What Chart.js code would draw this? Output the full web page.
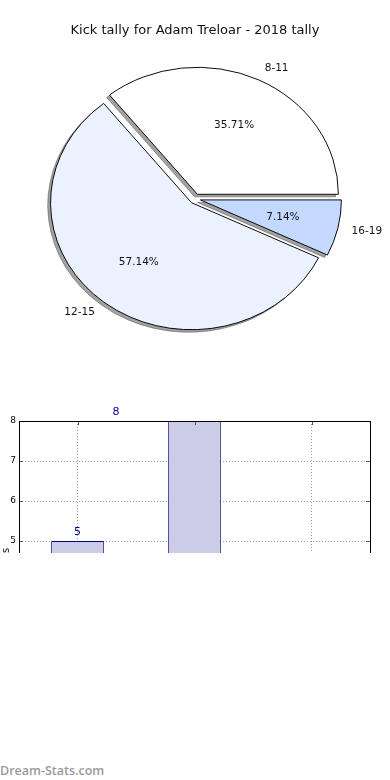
<!DOCTYPE html>
<html>
<head>
<meta charset="utf-8">
<script src="https://cdn.jsdelivr.net/npm/chart.js@4.4.1/dist/chart.umd.min.js"></script>
<style>
  html, body { margin: 0; padding: 0; background: #fff; }
  body { width: 390px; height: 780px; position: relative; overflow: hidden; }
  #pieBox { position: absolute; left: 0; top: 0; width: 390px; height: 400px; }
  #barBox { position: absolute; left: 0; top: 400px; width: 390px; height: 153px; overflow: hidden; }
  #barInner { width: 390px; height: 400px; }
  #mark { position: absolute; left: 0; top: 762px; font: 600 12.5px "Open Sans", sans-serif; color: #9a9a9a; }
</style>
</head>
<body>
<div id="pieBox"><canvas id="pie" width="390" height="400"></canvas></div>
<div id="barBox"><div id="barInner"><canvas id="bar" width="390" height="400"></canvas></div></div>
<div id="mark">Dream-Stats.com</div>
<script>
// data
const categories = ['8-11', '12-15', '16-19'];
const kickCounts = [5, 8, 1];
const sliceColors = ['#ffffff', '#ebf2ff', '#c4d9ff'];
const yTicks = [0, 1, 2, 3, 4, 5, 6, 7, 8];
// where the value labels sit, in category units relative to each bar
const labelShift = [0, -0.67, 0];
const chartTitle = 'Kick tally for Adam Treloar - 2018 tally';
const yAxisTitle = 'No. of games';

// pie look (matplotlib style: elliptical, exploded, shadowed)
const RADIUS_Y = 127;
const STRETCH_X = 141 / 127;
const EXPLODE = 5;
const SHADOW = 'rgba(70,70,70,0.5)';
const FONT = '"DejaVu Sans", sans-serif';

// chart.js draws clockwise from the rotation, matplotlib counter-clockwise
const pieLabels = [...categories].reverse();
const pieValues = [...kickCounts].reverse();
const pieColors = [...sliceColors].reverse();

const pieDraw = {
  id: 'pieDraw',
  beforeDatasetsDraw(chart) {
    const ctx = chart.ctx;
    const arcs = chart.getDatasetMeta(0).data;
    const cx = arcs[0].x, cy = arcs[0].y;
    const total = pieValues.reduce((a, b) => a + b, 0);

    const place = (arc) => {
      const mid = (arc.startAngle + arc.endAngle) / 2;
      ctx.translate(cx, cy);
      ctx.scale(STRETCH_X, 1);
      ctx.translate(-cx, -cy);
      ctx.translate(Math.cos(mid) * EXPLODE, Math.sin(mid) * EXPLODE);
    };

    // shadows under everything
    arcs.forEach(arc => {
      ctx.save();
      place(arc);
      ctx.translate(-0.02 * RADIUS_Y, 0.02 * RADIUS_Y);
      const opts = arc.options;
      arc.options = { ...opts, backgroundColor: SHADOW, borderColor: SHADOW };
      arc.draw(ctx);
      arc.options = opts;
      ctx.restore();
    });

    arcs.forEach(arc => {
      ctx.save();
      place(arc);
      arc.draw(ctx);
      ctx.restore();
    });

    // labels at 1.1 r, percentages at 0.6 r
    ctx.save();
    ctx.fillStyle = '#111';
    ctx.textBaseline = 'middle';
    ctx.font = '10.5px ' + FONT;
    arcs.forEach((arc, i) => {
      const mid = (arc.startAngle + arc.endAngle) / 2;
      const c = Math.cos(mid), s = Math.sin(mid);
      const wx = cx + c * EXPLODE * STRETCH_X;
      const wy = cy + s * EXPLODE;
      ctx.textAlign = c > 0 ? 'left' : 'right';
      ctx.fillText(pieLabels[i], wx + c * 1.1 * RADIUS_Y * STRETCH_X, wy + s * 1.1 * RADIUS_Y);
      ctx.textAlign = 'center';
      const pct = (pieValues[i] / total * 100).toFixed(2) + '%';
      ctx.fillText(pct, wx + c * 0.6 * RADIUS_Y * STRETCH_X, wy + s * 0.6 * RADIUS_Y);
    });
    ctx.restore();
    return false;
  }
};

new Chart(document.getElementById('pie'), {
  type: 'pie',
  data: {
    labels: pieLabels,
    datasets: [{
      data: pieValues,
      backgroundColor: pieColors,
      borderColor: '#000',
      borderWidth: 0.9,
      radius: RADIUS_Y
    }]
  },
  options: {
    responsive: false,
    animation: false,
    rotation: 90,
    layout: { padding: { bottom: 50 } },
    plugins: {
      legend: { display: false },
      tooltip: { enabled: false },
      title: {
        display: true,
        text: chartTitle,
        color: '#111',
        font: { family: FONT, size: 13, weight: 'normal' },
        padding: { top: 23, bottom: 9 }
      }
    }
  },
  plugins: [pieDraw]
});

// bar chart: frame, inside ticks and value labels
const barExtras = {
  id: 'barExtras',
  afterDatasetsDraw(chart) {
    const { ctx, chartArea: a } = chart;
    const xs = chart.scales.x, ys = chart.scales.y;
    ctx.save();
    ctx.strokeStyle = '#555';
    ctx.lineWidth = 1;
    ctx.beginPath();
    ys.ticks.forEach((t, i) => {
      const y = Math.round(ys.getPixelForTick(i)) + 0.5;
      ctx.moveTo(a.left, y); ctx.lineTo(a.left + 4, y);
      ctx.moveTo(a.right, y); ctx.lineTo(a.right - 4, y);
    });
    xs.ticks.forEach((t, i) => {
      const x = Math.round(xs.getPixelForTick(i)) + 0.5;
      ctx.moveTo(x, a.top); ctx.lineTo(x, a.top + 4);
      ctx.moveTo(x, a.bottom); ctx.lineTo(x, a.bottom - 4);
    });
    ctx.stroke();
    ctx.strokeStyle = '#000';
    ctx.strokeRect(Math.round(a.left) + 0.5, Math.round(a.top) + 0.5,
      Math.round(a.right - a.left), Math.round(a.bottom - a.top));

    ctx.fillStyle = '#00008b';
    ctx.font = '11px ' + FONT;
    ctx.textAlign = 'center';
    ctx.textBaseline = 'middle';
    chart.getDatasetMeta(0).data.forEach((bar, i) => {
      const x = xs.getPixelForValue(i + labelShift[i]);
      ctx.fillText(String(kickCounts[i]), x, bar.y - 9);
    });
    ctx.restore();
  }
};

new Chart(document.getElementById('bar'), {
  type: 'bar',
  data: {
    labels: categories,
    datasets: [{
      data: kickCounts,
      backgroundColor: '#ccccE6',
      borderColor: '#000080',
      borderWidth: 1,
      borderSkipped: false,
      categoryPercentage: 1,
      barPercentage: 0.45
    }]
  },
  options: {
    responsive: false,
    animation: false,
    layout: { padding: { top: 21, right: 20, bottom: 29 } },
    plugins: { legend: { display: false }, tooltip: { enabled: false } },
    scales: {
      x: {
        grid: { offset: false, color: '#999', drawTicks: false },
        border: { display: false, dash: [1, 2] },
        ticks: { color: '#000', font: { family: FONT, size: 9 }, padding: 4 },
        afterFit: (scale) => { scale.height = 30; }
      },
      y: {
        min: 0,
        max: 8,
        afterBuildTicks: (scale) => { scale.ticks = yTicks.map(v => ({ value: v })); },
        grid: { color: '#aaa', drawTicks: false },
        border: { display: false, dash: [1, 2] },
        ticks: { color: '#000', font: { family: FONT, size: 9 }, padding: 3 },
        title: {
          display: true,
          text: yAxisTitle,
          color: '#111',
          font: { family: FONT, size: 10 },
          padding: { top: 0, bottom: 0 }
        },
        afterFit: (scale) => { scale.width = 19; }
      }
    }
  },
  plugins: [barExtras]
});
</script>
</body>
</html>
